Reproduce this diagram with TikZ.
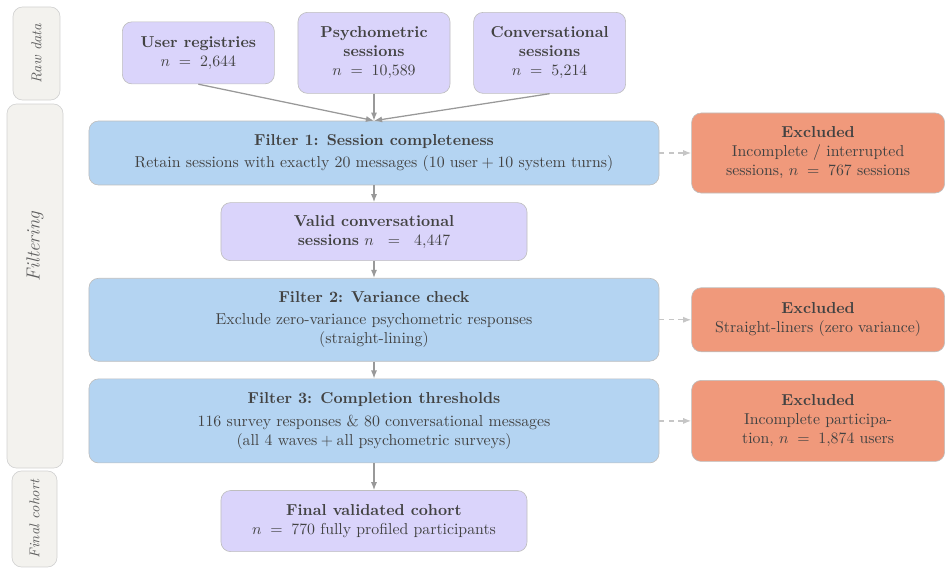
\documentclass[tikz,border=0pt]{standalone}
\usepackage{amsmath}
\usepackage{amssymb}
\usepackage{tikz}
\usepackage{xcolor}
\usetikzlibrary{arrows.meta,positioning,calc}

\definecolor{srcfill}{HTML}{DAD4FB}
\definecolor{filtfill}{HTML}{B4D4F2}
\definecolor{exclfill}{HTML}{F0997B}
\definecolor{bandfill}{HTML}{F3F2EE}
\definecolor{edgegray}{HTML}{BEBEBE}
\definecolor{txtgray}{HTML}{424242}

\begin{document}
\begin{tikzpicture}[
    node distance=0.378cm and 0.711cm,
    box/.style={draw=edgegray, rounded corners=6pt, align=center,
                text=txtgray, inner sep=3pt},
    src/.style={box, fill=srcfill, minimum width=3.378cm},
    filt/.style={box, fill=filtfill, minimum width=12.667cm},
    excl/.style={box, fill=exclfill, minimum width=5.622cm},
    band/.style={draw=edgegray!70, fill=bandfill, rounded corners=6pt,
                 rotate=90, text=txtgray!85, font=\small\itshape},
    arr/.style={-{Latex[length=1.8mm]}, draw=gray!80, thick},
    exarr/.style={-{Latex[length=1.8mm]}, draw=gray!45, thick, dashed}
]

\useasboundingbox (0,0) rectangle (21.133,-12.778);

\node[filt, minimum height=1.422cm] (filt1) at (8.311,-3.4)
    {\textbf{Filter 1: Session completeness}\\[2pt]
     Retain sessions with exactly 20 messages (10 user${}+{}$10 system turns)};

\node[src, minimum height=1.8cm, above=0.6cm of filt1] (psycho)
    {\textbf{Psychometric}\\\textbf{sessions}\\$n \;=\; 10{,}589$};
\node[src, minimum height=1.378cm, left=0.511cm of psycho] (registry)
    {\textbf{User registries}\\$n \;=\; 2{,}644$};
\node[src, minimum height=1.8cm, right=0.511cm of psycho] (convo)
    {\textbf{Conversational}\\\textbf{sessions}\\$n \;=\; 5{,}214$};

\draw[arr] (registry.south) -- (filt1.north);
\draw[arr] (psycho) -- (filt1);
\draw[arr] (convo.south) -- (filt1.north);

\node[src, minimum width=6.8cm, minimum height=1.289cm, below=of filt1] (valid)
    {\textbf{Valid conversational}\\\textbf{sessions} $n\ \;=\;\ 4{,}447$};
\node[filt, minimum height=1.844cm, below=of valid] (filt2)
    {\textbf{Filter 2: Variance check}\\[2pt]
     Exclude zero-variance psychometric responses\\(straight-lining)};
\node[filt, minimum height=1.867cm, below=of filt2] (filt3)
    {\textbf{Filter 3: Completion thresholds}\\[2pt]
     116 survey responses \& 80 conversational messages\\
     (all 4 waves${}+{}$all psychometric surveys)};
\node[src, minimum width=6.8cm, minimum height=1.356cm, below=0.6cm of filt3] (cohort)
    {\textbf{Final validated cohort}\\$n \;=\; 770$ fully profiled participants};

\draw[arr] (filt1) -- (valid);
\draw[arr] (valid) -- (filt2);
\draw[arr] (filt2) -- (filt3);
\draw[arr] (filt3) -- (cohort);

\node[excl, minimum height=1.778cm, right=of filt1] (excl1)
    {\textbf{Excluded}\\Incomplete / interrupted\\sessions, $n \;=\; 767$ sessions};
\node[excl, minimum height=1.422cm, right=of filt2] (excl2)
    {\textbf{Excluded}\\Straight-liners (zero variance)};
\node[excl, minimum height=1.8cm, right=of filt3] (excl3)
    {\textbf{Excluded}\\Incomplete participa-\\tion, $n \;=\; 1{,}874$ users};

\draw[exarr] (filt1) -- (excl1);
\draw[exarr] (filt2) -- (excl2);
\draw[exarr] (filt3) -- (excl3);

\node[band, minimum width=2.067cm, minimum height=1.044cm] (bandraw)
    at (0.811,-1.189) {Raw data};
\node[band, minimum width=8.089cm, minimum height=1.244cm] (bandfilt)
    at (0.778,-6.356) {};
\node[rotate=90, text=txtgray!85, font=\large\itshape] (bandfilttext)
    at ($(bandfilt.center)+(0,0.878)$) {Filtering};
\node[band, minimum width=2.133cm, minimum height=1.0cm] (bandfinal)
    at (0.767,-11.533) {Final cohort};

\end{tikzpicture}
\end{document}
